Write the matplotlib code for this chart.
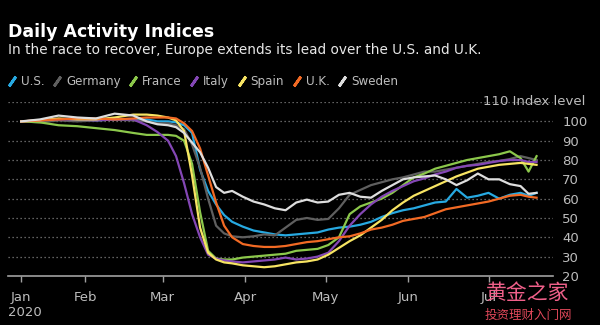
import numpy as np
import matplotlib
matplotlib.use("Agg")
from matplotlib import pyplot as plt
from matplotlib.lines import Line2D

# day of year (Jan 1 = 0) for each sample
days = [7, 14, 21, 28, 35, 42, 49, 54, 58, 62, 65, 68, 71, 74, 77, 80, 83, 86,
        90, 94, 98, 102, 106, 110, 114, 118, 122, 126, 130, 134, 138, 142, 146,
        150, 154, 158, 162, 166, 170, 174, 178, 182, 186, 190, 194, 197, 200]

us = [100, 100, 101, 101, 100.5, 101, 101, 101, 100, 100, 99.5, 98, 94, 75, 64,
      57, 51.5, 48, 45.5, 43.5, 42.5, 41.5, 41, 41.5, 42, 42.5, 44, 45, 45.5,
      46.5, 48, 50.5, 52.5, 54, 55, 56.5, 58, 58.5, 65, 60.5, 61.5, 63, 60, 62,
      63, 61.5, 63]
germany = [100, 99.5, 100.5, 100, 100.5, 101, 100.5, 100, 99, 99, 98, 96, 88,
           76, 60, 46, 42, 40.5, 40, 40.5, 41.5, 41, 45, 49, 50, 49, 49.5, 55,
           62, 64.5, 67, 68.5, 70, 71, 72.5, 74, 74, 75, 76, 77, 78, 79, 79.5,
           80.5, 82, 81, 80]
france = [100, 99.5, 98, 97.5, 96.5, 95.5, 94, 93, 93, 93, 92.5, 90, 78, 53,
          33, 29, 28.5, 28.5, 29.5, 30, 30.5, 31, 31.5, 33, 33.5, 34, 36, 40,
          52, 56, 58, 60, 63, 67, 71, 73, 75.5, 77, 78.5, 80, 81, 82, 83, 84.5,
          81, 74, 82]
italy = [100, 100.5, 101, 101, 100.5, 101, 101, 98, 94.5, 90, 82, 68, 52, 40,
         31, 29, 28, 27.5, 27, 27.5, 28, 28.5, 29.5, 28.5, 29, 30, 32, 38, 46,
         52, 57, 61, 64, 66.5, 69, 70.5, 72.5, 74, 76, 77, 77.5, 78.5, 79.5,
         80, 80, 79, 79]
spain = [100, 100.5, 101.5, 101, 101, 102, 103.5, 103.5, 103, 102, 100.5, 95,
         72, 45, 32, 28.5, 27, 26.5, 25.5, 25, 24.5, 25, 26, 27, 27.5, 28.5,
         31, 34.5, 38, 41, 45, 49, 54, 58, 61.5, 64, 66.5, 69, 71.5, 73.5,
         75.5, 76.5, 77.5, 78, 78.5, 78, 77.5]
uk = [100, 100.5, 101, 101.5, 101.5, 101, 101.5, 102, 102, 102, 101.5, 99, 95,
      86, 72, 58, 46, 40, 36.5, 35.5, 35, 35, 35.5, 36.5, 37.5, 38, 39, 40,
      40.5, 42, 44, 45, 46.5, 48.5, 49.5, 50.5, 52.5, 54.5, 55.5, 56.5, 57.5,
      58.5, 60, 61.5, 62, 61, 60.5]
sweden = [100, 101, 103, 102, 101.5, 104, 103, 100, 98.5, 98, 97, 94, 89, 84,
          76, 66, 63, 64, 61, 58.5, 57, 55, 54, 58, 59.5, 58, 58.5, 62, 63, 61,
          60.5, 64, 67, 70, 71, 71.5, 72, 70, 67, 69.5, 73, 70, 70, 67.5, 66.5,
          62.5, 63]

series = [("U.S.", us, "#27a9e1"),
          ("Germany", germany, "#5f5f5f"),
          ("France", france, "#8cc84b"),
          ("Italy", italy, "#8447b5"),
          ("Spain", spain, "#f7e463"),
          ("U.K.", uk, "#f26a24"),
          ("Sweden", sweden, "#dedede")]

yticks = [20, 30, 40, 50, 60, 70, 80, 90, 100]
month_labels = ["Jan", "Feb", "Mar", "Apr", "May", "Jun", "Jul"]

dates = np.datetime64("2020-01-01") + np.array(days).astype("timedelta64[D]")
# first tick sits at the start of the data, the rest at month starts
tick_dates = [dates[0]] + [np.datetime64("2020-%02d-01" % m) for m in range(2, 8)]

plt.rcParams["font.family"] = ["DejaVu Sans"]
fig = plt.figure(figsize=(6, 3.25), dpi=100, facecolor="black")
ax = fig.add_axes([0.013, 0.151, 0.908, 0.535])
ax.set_facecolor("black")

for name, vals, color in series:
    ax.plot(dates, vals, color=color, lw=1.6, solid_joinstyle="round")

ax.set_ylim(20, 110)
ax.set_xlim(np.datetime64("2020-01-03"), np.datetime64("2020-07-25"))
for v in yticks[1:] + [110]:
    ax.axhline(v, color="#808080", lw=0.9, ls=(0, (1, 2.2)), zorder=0)

ax.yaxis.tick_right()
ax.set_yticks(yticks)
ax.tick_params(axis="y", length=0, pad=7, labelsize=9.5, colors="#bdbdbd")
ax.set_xticks(tick_dates)
ax.set_xticklabels(month_labels)
ax.tick_params(axis="x", length=4, width=1, color="#a0a0a0", direction="out",
               pad=7, labelsize=9.5, labelcolor="#bdbdbd")
for s in ["left", "right", "top"]:
    ax.spines[s].set_visible(False)
ax.spines["bottom"].set_color("#a0a0a0")
ax.spines["bottom"].set_linewidth(1.2)

fig.text(0.975, 0.687, "110 Index level", ha="right", va="center",
         fontsize=9.5, color="#bdbdbd")
fig.text(0.013, 0.04, "2020", ha="left", va="center", fontsize=9.5,
         color="#bdbdbd")

fig.text(0.013, 0.903, "Daily Activity Indices", ha="left", va="center",
         fontsize=12.5, fontweight="bold", color="white")
fig.text(0.013, 0.845, "In the race to recover, Europe extends its lead over the U.S. and U.K.",
         ha="left", va="center", fontsize=9.8, color="#e8e8e8")

handles = [Line2D([], [], ls="none", marker=(2, 2, -35), markersize=8.5,
                  markeredgewidth=2, color=c, label=n) for n, _, c in series]
leg = fig.legend(handles=handles, loc="center left", bbox_to_anchor=(0.0, 0.75),
                 ncol=7, frameon=False, handlelength=0.6, handletextpad=0.45,
                 columnspacing=0.75, borderaxespad=0.3, fontsize=8.6,
                 labelcolor="#bdbdbd")

fig.text(0.88, 0.1, "黄金之家", ha="center", va="center", fontsize=15,
         color="#f0608a", family=["Noto Sans CJK SC", "DejaVu Sans"])
fig.text(0.88, 0.03, "投资理财入门网", ha="center", va="center", fontsize=9,
         color="#e0485a", family=["Noto Sans CJK SC", "DejaVu Sans"])

fig.savefig("out.png", facecolor="black")
